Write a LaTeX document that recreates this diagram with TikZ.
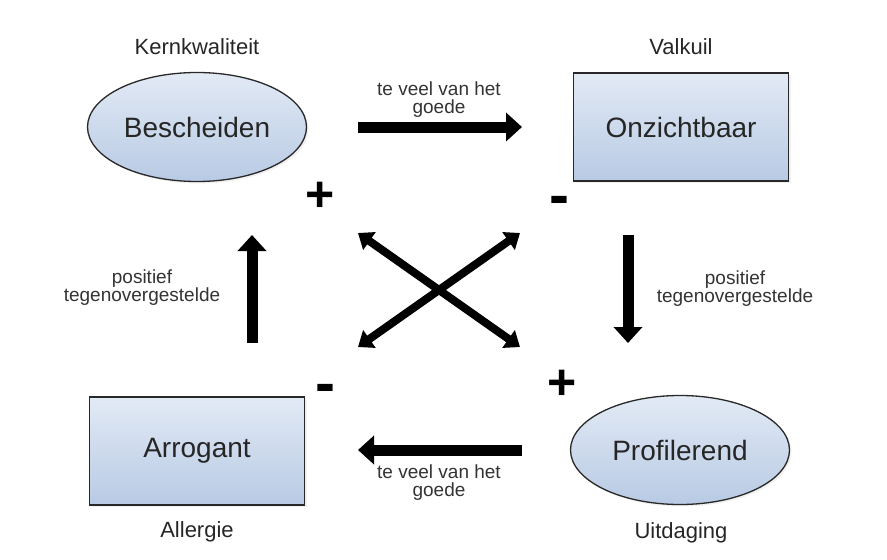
\documentclass[tikz,border=0pt]{standalone}
\usepackage{fontspec}
\setmainfont{Liberation Sans}
\usetikzlibrary{arrows.meta,shapes.geometric,shadows}
\definecolor{boxtop}{RGB}{226,234,245}
\definecolor{boxbottom}{RGB}{184,202,228}
\definecolor{boxline}{RGB}{40,40,40}
\tikzset{
	quality/.style={draw=boxline, line width=1.3pt, top color=boxtop, bottom color=boxbottom,
		text=black!85, font=\fontsize{28}{32}\selectfont, inner sep=0pt,
		drop shadow={opacity=0.12, shadow xshift=2pt, shadow yshift=-2pt}},
	kernshape/.style={quality, ellipse, minimum width=219pt, minimum height=109pt},
	boxshape/.style={quality, rectangle, minimum width=215pt, minimum height=108pt},
	caption/.style={font=\fontsize{22}{26}\selectfont, text=black!85},
	hint/.style={font=\fontsize{19}{18}\selectfont, align=center, text=black!80},
	sign/.style={font=\fontsize{50}{50}\bfseries\selectfont, inner sep=0pt},
	minsign/.style={font=\fontsize{60}{60}\bfseries\selectfont, inner sep=0pt},
	fat/.style={line width=11pt, -{Triangle[width=28pt,length=16pt]}},
	cross/.style={line width=8pt, {Triangle[width=21pt,length=14pt]}-{Triangle[width=21pt,length=14pt]}}
}
\begin{document}
\begin{tikzpicture}
% 1pt = 1px of the 887x560 picture, y runs down
[x=1pt, y=-1pt]
\useasboundingbox (0,0) rectangle (887,560);
% the four qualities, mirrored round x = 439
\node[kernshape] (kern) at (197,127) {Bescheiden};
\node[boxshape] (valk) at (681,127) {Onzichtbaar};
\node[boxshape] (allergy) at (197,451) {Arrogant};
\node[kernshape] (challenge) at (680,450) {Profilerend};
\node[caption] (kerncap) at (197,47) {Kernkwaliteit};
\node[caption] (valkcap) at (681,47) {Valkuil};
\node[caption] (allergycap) at (197,532) {Allergie};
\node[caption] (challengecap) at (681,533) {Uitdaging};
% + and - in the corners between them
% the - is set 8 lower, its box sits above the bar
\node[sign] (plustop) at (320,197) {+};
\node[minsign] (mintop) at (559,206) {-};
\node[minsign] (minbot) at (325,394) {-};
\node[sign] (plusbot) at (562,385) {+};
% arrow ends
\coordinate (topw) at (358,127); \coordinate (tope) at (522,127);
\coordinate (rightn) at (628,235); \coordinate (rights) at (628,343);
\coordinate (bote) at (522,450); \coordinate (botw) at (358,450);
\coordinate (lefts) at (252,343); \coordinate (leftn) at (252,235);
\coordinate (xnw) at (358,233); \coordinate (xne) at (520,233);
\coordinate (xsw) at (358,347); \coordinate (xse) at (520,347);
\foreach \from/\to in {topw/tope, rightn/rights, bote/botw, lefts/leftn}{
	\draw[fat] (\from) -- (\to);
	}
\foreach \from/\to in {xnw/xse, xne/xsw}{
	\draw[cross] (\from) -- (\to);
	}
\node[hint] (toptext) at (439,100) {te veel van het\\goede};
\node[hint] (bottext) at (439,483) {te veel van het\\goede};
\node[hint] (lefttext) at (142,288) {positief\\tegenovergestelde};
\node[hint] (righttext) at (735,289) {positief\\tegenovergestelde};
\end{tikzpicture}
\end{document}
